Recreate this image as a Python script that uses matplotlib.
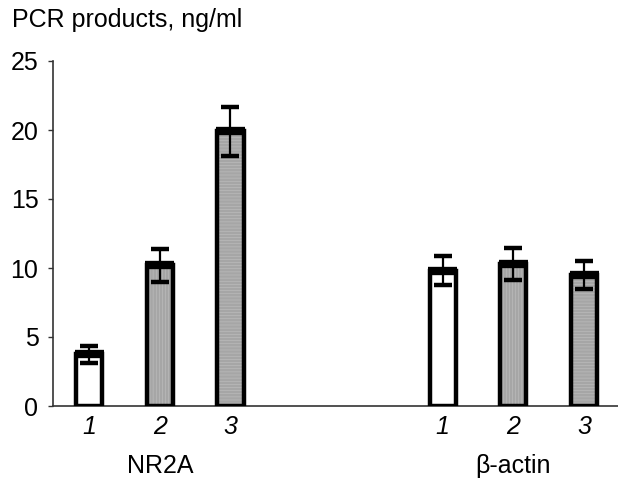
import matplotlib
matplotlib.use("Agg")
import matplotlib.pyplot as plt
import numpy as np

# ---- data ----
groups = ["NR2A", "β-actin"]
bar_labels = ["1", "2", "3"]
nr2a_values = [3.75, 10.2, 19.9]
nr2a_errors = [0.6, 1.2, 1.8]
actin_values = [9.8, 10.3, 9.5]
actin_errors = [1.05, 1.15, 1.0]
y_ticks = [0, 5, 10, 15, 20, 25]
y_label = "PCR products, ng/ml"

plt.rcParams['font.family'] = ['Liberation Sans', 'DejaVu Sans']
plt.rcParams['hatch.linewidth'] = 0.45

fig = plt.figure(figsize=(6.18, 4.78), dpi=100)
ax = fig.add_axes([53/618, 1 - 406/478, 1 - 53/618, (406 - 61)/478])

positions = [0, 1, 2, 5, 6, 7]
values = nr2a_values + actin_values
errors = nr2a_errors + actin_errors
hatches = ["", "|" * 22, "-" * 22] * 2
width = 0.37

for x, v, e, h in zip(positions, values, errors, hatches):
    # hatch fill (gray)
    ax.bar(x, v, width=width, color="white", edgecolor="#999999", hatch=h,
           linewidth=0, zorder=1)
    # thick black outline
    ax.bar(x, v, width=width, color="none", edgecolor="black", linewidth=3.2,
           zorder=3)
    # thick top band
    ax.hlines(v, x - width/2 - 0.02, x + width/2 + 0.02, color="black",
              linewidth=6, zorder=4)
    ax.errorbar(x, v, yerr=e, fmt="none", ecolor="black", elinewidth=1.6,
                capsize=6.5, capthick=3.2, zorder=5)

ax.set_xlim(-0.51, 7.48)
ax.set_ylim(0, 25)
ax.set_yticks(y_ticks)
ax.set_yticklabels([str(t) for t in y_ticks], fontsize=18)
ax.tick_params(axis="y", length=3.5, width=1, pad=7, color="#333333")
ax.set_xticks([])
for s in ["top", "right"]:
    ax.spines[s].set_visible(False)
for s in ["left", "bottom"]:
    ax.spines[s].set_color("#333333")
    ax.spines[s].set_linewidth(1.2)

# italic bar numbers
for x, lab in zip(positions, bar_labels * 2):
    ax.annotate(lab, xy=(x, 0), xycoords=("data", "axes fraction"),
                xytext=(0, -21), textcoords="offset pixels",
                ha="center", va="center", fontsize=18, style="italic")

# group labels
group_centers = [np.mean(positions[:3]), np.mean(positions[3:])]
for gx, g in zip(group_centers, groups):
    ax.annotate(g, xy=(gx, 0), xycoords=("data", "axes fraction"),
                xytext=(0, -67), textcoords="offset pixels",
                ha="center", va="baseline", fontsize=18)

fig.text(12/618, 1 - 27/478, y_label, ha="left", va="baseline", fontsize=18)

fig.savefig("out.png", dpi=100)
